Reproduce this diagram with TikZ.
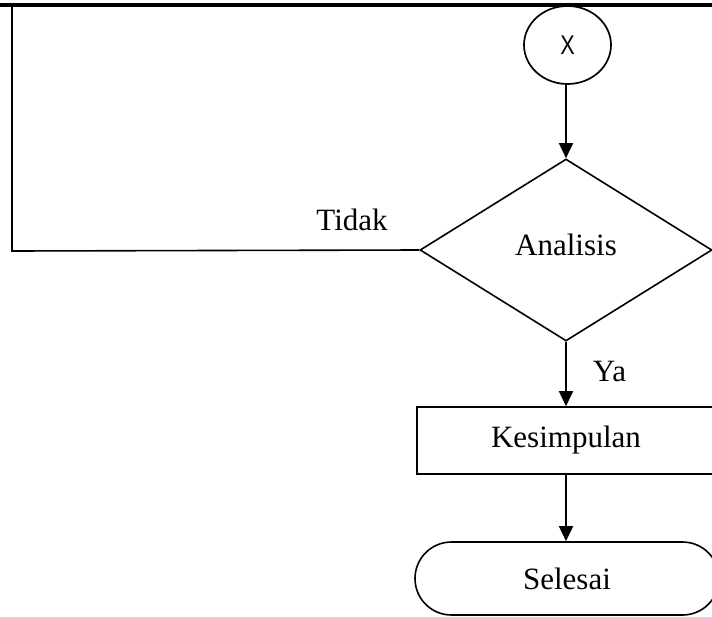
\documentclass[tikz,border=0pt]{standalone}
\usepackage{fontspec}
\setmainfont{Liberation Serif}
\newfontfamily\xsans{Liberation Sans}
\usetikzlibrary{shapes.geometric,arrows.meta}

\begin{document}
\begin{tikzpicture}[x=1pt,y=-1pt,
  line width=1.6pt,
  every node/.style={font=\fontsize{31}{36}\selectfont},
  flow/.style={draw,line width=1.6pt,-{Triangle[length=15pt,width=14pt]}},
  connector/.style={draw,ellipse,line width=1.7pt,minimum width=87pt,minimum height=78pt,inner sep=0pt},
  decision/.style={draw,diamond,line width=1.6pt,minimum width=292pt,minimum height=182pt,inner sep=0pt},
  process/.style={draw,rectangle,line width=1.6pt,minimum width=298pt,minimum height=67pt,inner sep=0pt},
  terminal/.style={draw,rectangle,rounded corners=36.5pt,line width=1.6pt,minimum width=304pt,minimum height=73pt,inner sep=0pt},
  tag/.style={anchor=base,inner sep=0pt}
]
\useasboundingbox (0,0) rectangle (712,616);
\clip (0,0) rectangle (712,616);

% flowchart blocks
\node[connector] (x) at (567.5,45) {\xsans\fontsize{27}{29}\selectfont\scalebox{0.8}[1]{X}};
\node[decision] (dia) at (566,250) {\raisebox{10pt}{Analisis}};
\node[process] (kes) at (566,440.5) {Kesimpulan};
\node[terminal] (end) at (567,578.5) {\raisebox{-4pt}{Selesai}};

% branch labels
\node[tag] (tidak) at (352,230) {Tidak};
\node[tag] (ya) at (609.5,381) {Ya};

% page edge line on top
\draw[line width=3.5pt] (0,5) -- (712,5);

% connectors
\draw[flow] (x.south -| dia.north) -- (dia.north);
\draw[flow] (dia.south) -- (kes.north);
\draw[flow] (kes.south) -- (kes.south |- end.north);

% loop back on "Tidak"
\coordinate (lb) at (12,251);
\coordinate (lt) at (12,6);
\draw (dia.west) -- (lb) -- (lt);
\end{tikzpicture}
\end{document}
